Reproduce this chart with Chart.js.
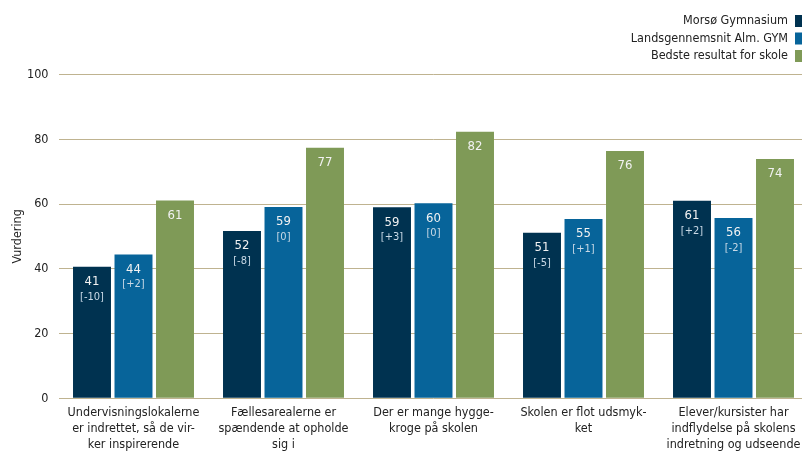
<!DOCTYPE html>
<html lang="da">
<head>
  <meta charset="UTF-8">
  <title>Vurdering af skolens fysiske rammer</title>
  <style>
    body { margin: 0; overflow: hidden; background: #fff; }
    .box { width: 810px; height: 451px; }
  </style>
</head>
<body>
  <div class="box">
    <canvas id="myChart" width="810" height="451"></canvas>
  </div>
  <script src="https://cdn.jsdelivr.net/npm/chart.js"></script>
  <script>
    // data
    const categories = [
      ['Undervisningslokalerne', 'er indrettet, så de vir-', 'ker inspirerende'],
      ['Fællesarealerne er', 'spændende at opholde', 'sig i'],
      ['Der er mange hygge-', 'kroge på skolen'],
      ['Skolen er flot udsmyk-', 'ket'],
      ['Elever/kursister har', 'indflydelse på skolens', 'indretning og udseende']
    ]
    const seriesNames = ['Morsø Gymnasium', 'Landsgennemsnit Alm. GYM', 'Bedste resultat for skole']
    const morsoe = [40.6, 51.7, 59.0, 51.1, 61.0]
    const landsgns = [44.4, 59.1, 60.2, 55.4, 55.7]
    const bedste = [61.1, 77.4, 82.3, 76.4, 73.9]
    const morsoeDiff = ['-10', '-8', '+3', '-5', '+2']
    const landsgnsDiff = ['+2', '0', '0', '+1', '-2']
    const yTicks = [0, 20, 40, 60, 80, 100]

    const FONT = "'DejaVu Sans Condensed', 'Liberation Sans', sans-serif"
    const colors = ['#003250', '#07649a', '#7f9a57']

    // tal inde i søjlerne
    const barLabels = {
      id: 'barLabels',
      afterDatasetsDraw(chart) {
        const ctx = chart.ctx
        const diffs = [morsoeDiff, landsgnsDiff, null]
        ctx.save()
        ctx.textAlign = 'center'
        ctx.textBaseline = 'middle'
        chart.data.datasets.forEach((ds, i) => {
          chart.getDatasetMeta(i).data.forEach((bar, j) => {
            ctx.fillStyle = '#f2f2f2'
            ctx.font = '13px ' + FONT
            ctx.fillText(Math.round(ds.data[j]), bar.x, bar.y + 15)
            if (diffs[i]) {
              ctx.fillStyle = '#c9d9e6'
              ctx.font = '11px ' + FONT
              ctx.fillText('[' + diffs[i][j] + ']', bar.x, bar.y + 30)
            }
          })
        })
        ctx.restore()
      }
    }

    // legende øverst til højre, tekst før boksen
    const legendRight = {
      id: 'legendRight',
      afterDraw(chart) {
        const ctx = chart.ctx
        ctx.save()
        ctx.font = '12.5px ' + FONT
        ctx.textAlign = 'right'
        ctx.textBaseline = 'middle'
        chart.data.datasets.forEach((ds, i) => {
          const y = 21 + i * 17.5
          ctx.fillStyle = '#222'
          ctx.fillText(ds.label, 788, y)
          ctx.fillStyle = ds.backgroundColor
          ctx.fillRect(795, y - 6, 12, 12)
        })
        ctx.restore()
      }
    }

    const ctx = document.getElementById('myChart')

    new Chart(ctx, {
      type: 'bar',
      data: {
        labels: categories,
        datasets: [
          { label: seriesNames[0], data: morsoe, backgroundColor: colors[0] },
          { label: seriesNames[1], data: landsgns, backgroundColor: colors[1] },
          { label: seriesNames[2], data: bedste, backgroundColor: colors[2] }
        ]
      },
      options: {
        responsive: false,
        animation: false,
        categoryPercentage: 0.83,
        barPercentage: 0.915,
        layout: { padding: { top: 74.5, right: 1.5, left: 0, bottom: 0 } },
        plugins: {
          legend: { display: false },
          tooltip: { enabled: false }
        },
        scales: {
          x: {
            grid: { display: false },
            border: { display: false },
            ticks: {
              autoSkip: false,
              maxRotation: 0,
              padding: -2,
              color: '#222',
              font: { size: 12.5, family: FONT, lineHeight: '16px' }
            },
            afterFit(scale) { scale.height = 52.7 }
          },
          y: {
            min: 0,
            max: 100,
            afterBuildTicks(scale) { scale.ticks = yTicks.map(v => ({ value: v })) },
            border: { display: false },
            grid: { color: '#bfb390', drawTicks: false, lineWidth: 1 },
            ticks: {
              padding: 10,
              color: '#222',
              font: { size: 12.5, family: FONT }
            },
            title: {
              display: true,
              text: 'Vurdering',
              color: '#222',
              padding: { top: 10, bottom: 0 },
              font: { size: 12.5, family: FONT }
            },
            afterFit(scale) { scale.width = 58.5 }
          }
        }
      },
      plugins: [barLabels, legendRight]
    })
  </script>
</body>
</html>
